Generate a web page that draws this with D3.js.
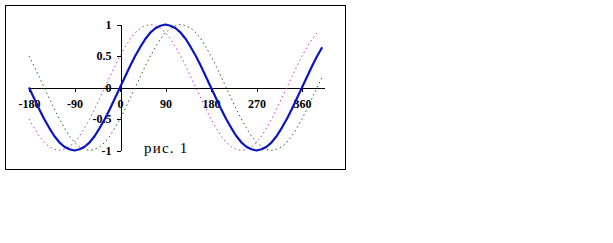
<!DOCTYPE html>
<html>
<head>
<meta charset="utf-8">
<script src="https://cdn.jsdelivr.net/npm/d3@7"></script>
<style>
  body { margin: 0; background: #fff; }
  svg { display: block; }
  .axis text { font-family: "Liberation Serif", "Times New Roman", serif; font-weight: bold; font-size: 12px; fill: #000; }
  .axis path, .axis line { stroke: #000; stroke-width: 1; shape-rendering: crispEdges; }
</style>
</head>
<body>
<svg id="chart" width="613" height="243"></svg>
<script>
// angles, degrees
var angles = [-180, -170, -160, -150, -140, -130, -120, -110, -100,
	-90, -80, -70, -60, -50, -40, -30, -20, -10,
	0, 10, 20, 30, 40, 50, 60, 70, 80,
	90, 100, 110, 120, 130, 140, 150, 160, 170,
	180, 190, 200, 210, 220, 230, 240, 250, 260,
	270, 280, 290, 300, 310, 320, 330, 340, 350,
	360, 370, 380, 390, 400];

// blue solid curve
var blueVals = [0, -0.17, -0.34, -0.5, -0.64, -0.77, -0.87, -0.94, -0.98,
	-1, -0.98, -0.94, -0.87, -0.77, -0.64, -0.5, -0.34, -0.17,
	0, 0.17, 0.34, 0.5, 0.64, 0.77, 0.87, 0.94, 0.98,
	1, 0.98, 0.94, 0.87, 0.77, 0.64, 0.5, 0.34, 0.17,
	0, -0.17, -0.34, -0.5, -0.64, -0.77, -0.87, -0.94, -0.98,
	-1, -0.98, -0.94, -0.87, -0.77, -0.64, -0.5, -0.34, -0.17,
	0, 0.17, 0.34, 0.5, 0.64];

// magenta dotted curve (ends at 390)
var pinkVals = [-0.5, -0.64, -0.77, -0.87, -0.94, -0.98, -1, -0.98, -0.94,
	-0.87, -0.77, -0.64, -0.5, -0.34, -0.17, 0, 0.17, 0.34,
	0.5, 0.64, 0.77, 0.87, 0.94, 0.98, 1, 0.98, 0.94,
	0.87, 0.77, 0.64, 0.5, 0.34, 0.17, 0, -0.17, -0.34,
	-0.5, -0.64, -0.77, -0.87, -0.94, -0.98, -1, -0.98, -0.94,
	-0.87, -0.77, -0.64, -0.5, -0.34, -0.17, 0, 0.17, 0.34,
	0.5, 0.64, 0.77, 0.87];

// green dotted curve
var greenVals = [0.5, 0.34, 0.17, 0, -0.17, -0.34, -0.5, -0.64, -0.77,
	-0.87, -0.94, -0.98, -1, -0.98, -0.94, -0.87, -0.77, -0.64,
	-0.5, -0.34, -0.17, 0, 0.17, 0.34, 0.5, 0.64, 0.77,
	0.87, 0.94, 0.98, 1, 0.98, 0.94, 0.87, 0.77, 0.64,
	0.5, 0.34, 0.17, 0, -0.17, -0.34, -0.5, -0.64, -0.77,
	-0.87, -0.94, -0.98, -1, -0.98, -0.94, -0.87, -0.77, -0.64,
	-0.5, -0.34, -0.17, 0, 0.17];

var xTicks = [-180, -90, 0, 90, 180, 270, 360];
var yTicks = [-1, -0.5, 0, 0.5, 1];
var yTickLabels = ["-1", "-0.5", "0", "0.5", "1"];
var caption = "рис. 1";

var svg = d3.select("#chart");

// frame
svg.append("rect")
	.attr("x", 5.5).attr("y", 5.5)
	.attr("width", 340).attr("height", 164)
	.attr("fill", "none")
	.attr("stroke", "#000")
	.attr("stroke-width", 1);

var x = d3.scaleLinear().domain([-180, 405]).range([29, 324.75]);
var y = d3.scaleLinear().domain([-1, 1]).range([150.5, 24.5]);

// x axis through y = 0
var xAxis = svg.append("g")
	.attr("class", "axis")
	.attr("transform", "translate(0," + y(0) + ")")
	.call(d3.axisBottom(x).tickValues(xTicks).tickSize(4).tickSizeOuter(0).tickFormat(d3.format("d")));
xAxis.selectAll("text")
	.text(function(d) { return String(d); })
	.attr("y", 11.5);

// y axis through x = 0
var yAxis = svg.append("g")
	.attr("class", "axis")
	.attr("transform", "translate(" + (x(0) + 0.5) + ",0)")
	.call(d3.axisLeft(y).tickValues(yTicks).tickSize(4).tickSizeOuter(0)
		.tickFormat(function(d, i) { return yTickLabels[i]; }));
yAxis.selectAll("text").attr("x", -9);

function series(vals) {
	return vals.map(function(v, i) { return [angles[i], v]; });
}

var line = d3.line()
	.x(function(d) { return x(d[0]); })
	.y(function(d) { return y(d[1]); });

svg.append("path")
	.datum(series(greenVals))
	.attr("d", line)
	.attr("fill", "none")
	.attr("stroke", "#1f6a1f")
	.attr("stroke-width", 1)
	.attr("stroke-dasharray", "1.5,3");

svg.append("path")
	.datum(series(pinkVals))
	.attr("d", line)
	.attr("fill", "none")
	.attr("stroke", "#d030d0")
	.attr("stroke-width", 1)
	.attr("stroke-dasharray", "1.5,3");

svg.append("path")
	.datum(series(blueVals))
	.attr("d", line)
	.attr("fill", "none")
	.attr("stroke", "#0a14c0")
	.attr("stroke-width", 2.2)
	.attr("stroke-linejoin", "round");

svg.append("text")
	.attr("x", 144)
	.attr("y", 153)
	.attr("font-family", "Liberation Serif, Times New Roman, serif")
	.attr("font-size", 15)
	.attr("letter-spacing", 1.2)
	.text(caption);
</script>
</body>
</html>
